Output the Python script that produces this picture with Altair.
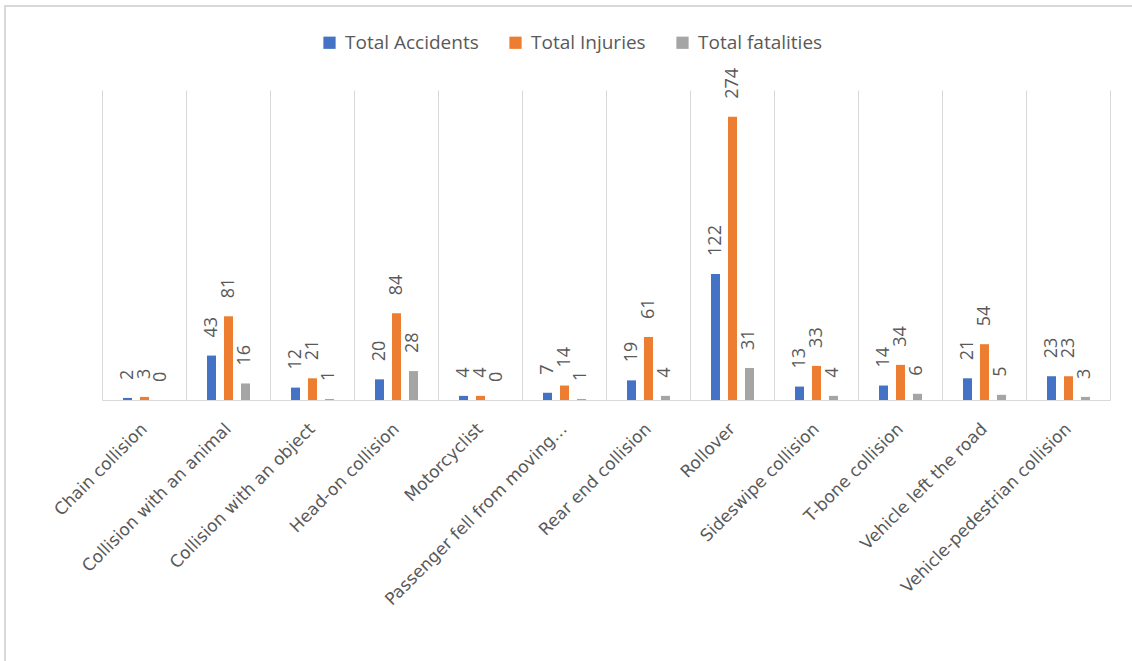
import altair as alt
import pandas as pd

categories = [
    "Chain collision",
    "Collision with an animal",
    "Collision with an object",
    "Head-on collision",
    "Motorcyclist",
    "Passenger fell from moving…",
    "Rear end collision",
    "Rollover",
    "Sideswipe collision",
    "T-bone collision",
    "Vehicle left the road",
    "Vehicle-pedestrian collision",
]
total_accidents = [2, 43, 12, 20, 4, 7, 19, 122, 13, 14, 21, 23]
total_injuries = [3, 81, 21, 84, 4, 14, 61, 274, 33, 34, 54, 23]
total_fatalities = [0, 16, 1, 28, 0, 1, 4, 31, 4, 6, 5, 3]

series_names = ["Total Accidents", "Total Injuries", "Total fatalities"]
series_colors = ["#4472C4", "#ED7D31", "#A5A5A5"]

rows = []
for name, vals in zip(series_names, [total_accidents, total_injuries, total_fatalities]):
    for c, v in zip(categories, vals):
        rows.append({"category": c, "series": name, "value": v})
df = pd.DataFrame(rows)

W, H = 1008, 310
GRID = "#D9D9D9"
TXT = "#595959"

x_enc = alt.X(
    "category:N",
    sort=categories,
    scale=alt.Scale(paddingInner=0, paddingOuter=0),
    axis=alt.Axis(
        title=None,
        grid=True,
        gridColor=GRID,
        tickBand="extent",
        ticks=False,
        domainColor=GRID,
        labelAngle=-45,
        labelAlign="right",
        labelBaseline="middle",
        labelPadding=26,
        labelFont="DejaVu Sans",
        labelFontSize=17,
        labelColor=TXT,
        labelLimit=400,
    ),
)
xoff = alt.XOffset(
    "series:N",
    sort=series_names,
    scale=alt.Scale(domain=series_names, range=[21, 64], paddingInner=0.47, paddingOuter=0),
)
y_enc = alt.Y("value:Q", scale=alt.Scale(domain=[0, 300]), axis=None)

base = alt.Chart(df).encode(x=x_enc, xOffset=xoff, y=y_enc)

bars = base.mark_bar().encode(
    color=alt.Color(
        "series:N",
        sort=series_names,
        scale=alt.Scale(domain=series_names, range=series_colors),
        legend=alt.Legend(
            title=None,
            orient="none",
            legendX=218,
            legendY=-57,
            direction="horizontal",
            symbolType="square",
            symbolSize=150,
            symbolStrokeWidth=0,
            labelFont="Open Sans",
            labelFontSize=19,
            labelColor=TXT,
            labelOffset=6,
            columnPadding=27,
        ),
    )
)

labels = base.mark_text(
    angle=270,
    align="left",
    baseline="middle",
    dx=18,
    font="Open Sans",
    fontSize=18,
    color=TXT,
).encode(text="value:Q")

frame = alt.Chart(alt.Data(values=[{}])).mark_rect(
    fill=None, stroke=GRID, strokeWidth=2
).encode(
    x=alt.value(-97), x2=alt.value(1060), y=alt.value(-84), y2=alt.value(600)
)

chart = (
    alt.layer(frame, bars, labels)
    .properties(
        width=W,
        height=H,
        autosize=alt.AutoSizeParams(type="none"),
        padding={"left": 102, "top": 90, "right": 22, "bottom": 261},
        background="white",
    )
    .configure_view(stroke=None)
)

chart.save("out.html", embed_options={"renderer": "svg", "actions": False})
